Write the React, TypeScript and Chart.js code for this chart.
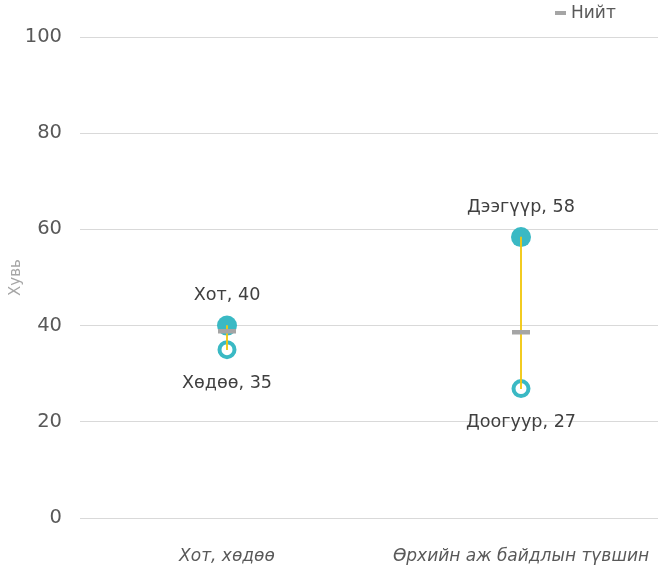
import React, { useEffect, useRef } from "react";
import { Chart, registerables } from "chart.js";

Chart.register(...registerables);

const categories = ["Хот, хөдөө", "Өрхийн аж байдлын түвшин"];
const highNames = ["Хот", "Дээгүүр"];
const highValues = [40, 58.4];
const lowNames = ["Хөдөө", "Доогуур"];
const lowValues = [35, 26.9];
const totalLabel = "Нийт";
const totalValues = [38.8, 38.6];
const yAxisTitle = "Хувь";

const FONT = "'DejaVu Sans', 'Liberation Sans', sans-serif";
const TEAL = "#3ab9c4";
const GRAY = "#a5a5a5";
const TEXT = "#404040";

const W = 668;
const H = 566;

const labelPlugin = {
  id: "pointLabels",
  afterDatasetsDraw(chart: any) {
    const ctx = chart.ctx;
    ctx.save();
    ctx.font = `17.6px ${FONT}`;
    ctx.fillStyle = TEXT;
    ctx.textAlign = "center";
    ctx.textBaseline = "middle";
    const hi = chart.getDatasetMeta(2);
    const lo = chart.getDatasetMeta(3);
    hi.data.forEach((p: any, i: number) => {
      ctx.fillText(`${highNames[i]}, ${Math.round(highValues[i])}`, p.x, p.y - 30);
    });
    lo.data.forEach((p: any, i: number) => {
      ctx.fillText(`${lowNames[i]}, ${Math.round(lowValues[i])}`, p.x, p.y + 34);
    });
    ctx.restore();
  },
};

const legendPlugin = {
  id: "customLegend",
  afterDraw(chart: any) {
    const ctx = chart.ctx;
    ctx.save();
    ctx.strokeStyle = GRAY;
    ctx.lineWidth = 4;
    ctx.beginPath();
    ctx.moveTo(555, 13);
    ctx.lineTo(566, 13);
    ctx.stroke();
    ctx.font = `17px ${FONT}`;
    ctx.fillStyle = "#595959";
    ctx.textAlign = "left";
    ctx.textBaseline = "middle";
    ctx.fillText(totalLabel, 571, 14);
    ctx.restore();
  },
};

export default function App() {
  const ref = useRef<HTMLCanvasElement>(null);
  useEffect(() => {
    if (!ref.current) return;
    const chart = new Chart(ref.current, {
      type: "bar",
      data: {
        labels: categories,
        datasets: [
          {
            type: "bar",
            label: "range",
            data: categories.map((_, i) => [lowValues[i], highValues[i]]) as any,
            backgroundColor: "#f2c811",
            barThickness: 1.2,
            order: 2,
          } as any,
          {
            type: "line",
            label: totalLabel,
            data: totalValues,
            showLine: false,
            pointStyle: "line",
            pointRadius: 9,
            pointBorderWidth: 4.5,
            pointBorderColor: GRAY,
            pointBackgroundColor: GRAY,
            order: 1,
          },
          {
            type: "line",
            label: "high",
            data: highValues,
            showLine: false,
            pointRadius: 10,
            pointBorderWidth: 0,
            pointBackgroundColor: TEAL,
            pointBorderColor: TEAL,
            order: 4,
          },
          {
            type: "line",
            label: "low",
            data: lowValues,
            showLine: false,
            pointRadius: 7.5,
            pointBorderWidth: 4,
            pointBackgroundColor: "#ffffff",
            pointBorderColor: TEAL,
            order: 3,
          },
        ],
      },
      options: {
        responsive: false,
        animation: false,
        events: [],
        layout: { autoPadding: false, padding: { top: 37, right: 0, bottom: 0, left: 0 } },
        plugins: {
          legend: { display: false },
          tooltip: { enabled: false },
        },
        scales: {
          x: {
            type: "category",
            offset: true,
            grid: { display: false, drawTicks: false },
            border: { display: false },
            ticks: {
              color: "#595959",
              font: { family: FONT, size: 17, style: "italic" },
              padding: 28,
              maxRotation: 0,
              autoSkip: false,
            },
            afterFit(scale: any) {
              scale.height = 48;
              scale.paddingLeft = 0;
              scale.paddingRight = 0;
            },
          },
          y: {
            min: 0,
            max: 100,
            border: { display: false },
            grid: { color: "#d9d9d9", drawTicks: false },
            ticks: {
              stepSize: 20,
              color: "#595959",
              font: { family: FONT, size: 19.5 },
              padding: 18,
            },
            title: {
              display: true,
              text: yAxisTitle,
              color: "#a6a6a6",
              font: { family: FONT, size: 15 },
              padding: { top: 7, bottom: 0 },
            },
            afterFit(scale: any) {
              scale.width = 80;
            },
          },
        },
      },
      plugins: [labelPlugin, legendPlugin],
    });
    return () => chart.destroy();
  }, []);
  return (
    <div
      style={{
        position: "fixed",
        left: 0,
        top: 0,
        width: 658,
        height: 566,
        overflow: "hidden",
        background: "#ffffff",
      }}
    >
      <canvas
        ref={ref}
        width={W}
        height={H}
        style={{ display: "block", position: "absolute", left: 0, top: 0, width: W, height: H }}
      />
    </div>
  );
}
